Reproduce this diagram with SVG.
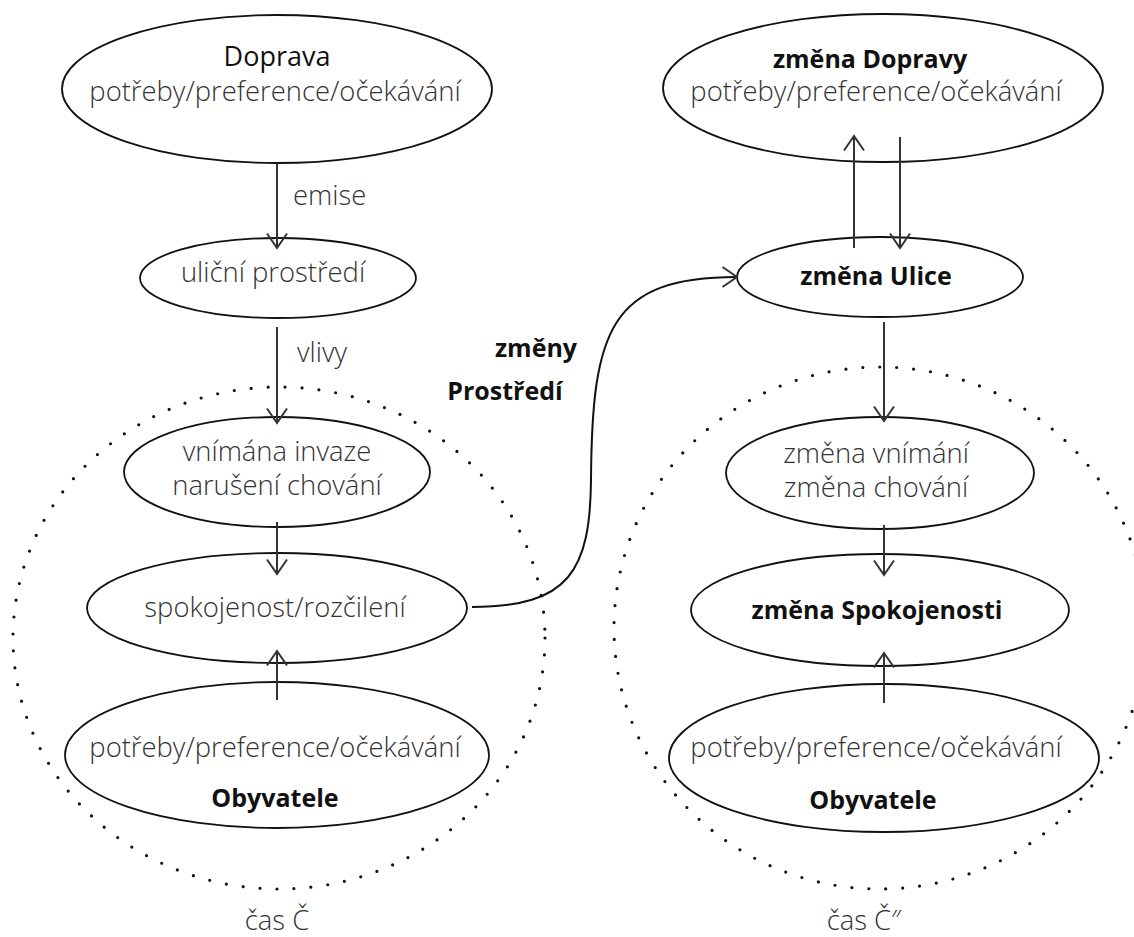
<svg xmlns="http://www.w3.org/2000/svg" width="1134" height="937" viewBox="0 0 1134 937">
  <style>
    .node { fill: #ffffff; stroke: #111111; stroke-width: 1.8; }
    .zone { fill: none; stroke: #111111; stroke-width: 3.2; stroke-linecap: round; stroke-dasharray: 0 17; }
    .link { fill: none; stroke: #333333; stroke-width: 2; }
    .curve { fill: none; stroke: #111111; stroke-width: 2; }
    .t { font-family: "Open Sans", "DejaVu Sans", sans-serif; font-weight: 300; font-size: 27.4px; fill: #333333; text-anchor: middle; }
    .h { font-family: "Open Sans", "DejaVu Sans", sans-serif; font-weight: 400; font-size: 27px; fill: #111111; text-anchor: middle; }
    .b { font-family: "Open Sans", "DejaVu Sans", sans-serif; font-weight: 700; font-size: 25px; fill: #111111; text-anchor: middle; }
    .lbl { font-family: "Open Sans", "DejaVu Sans", sans-serif; font-weight: 300; font-size: 27.4px; fill: #333333; }
  </style>
  <defs>
    <marker id="open" markerUnits="userSpaceOnUse" markerWidth="22" markerHeight="24" refX="15" refY="10" orient="auto" overflow="visible">
      <path d="M0.5,0 L15,10 L0.5,20" fill="none" stroke="#333333" stroke-width="2"/>
    </marker>
  </defs>
  <rect width="1134" height="937" fill="#ffffff"/>

  <!-- time zones (dotted) -->
  <g id="zones">
    <ellipse class="zone" cx="279" cy="638" rx="266" ry="251"/>
    <ellipse class="zone" cx="880" cy="628" rx="266" ry="261"/>
  </g>

  <!-- left column: time Č -->
  <g id="doprava">
    <ellipse class="node" cx="277" cy="89" rx="215" ry="74"/>
    <text class="h" x="277" y="66">Doprava</text>
    <text class="t" x="275" y="101">potřeby/preference/očekávání</text>
  </g>
  <g id="ulicni-prostredi">
    <ellipse class="node" cx="278" cy="278" rx="138" ry="40"/>
    <text class="t" x="273" y="282">uliční prostředí</text>
  </g>
  <g id="vnimana-invaze">
    <ellipse class="node" cx="277" cy="472" rx="153" ry="55"/>
    <text class="t" x="277" y="461">vnímána invaze</text>
    <text class="t" x="277" y="495">narušení chování</text>
  </g>
  <g id="spokojenost">
    <ellipse class="node" cx="277" cy="608" rx="190" ry="55"/>
    <text class="t" x="275" y="617">spokojenost/rozčilení</text>
  </g>
  <g id="obyvatele-1">
    <ellipse class="node" cx="277" cy="755" rx="212" ry="73"/>
    <text class="t" x="275" y="757">potřeby/preference/očekávání</text>
    <text class="b" x="275" y="807">Obyvatele</text>
  </g>

  <!-- right column: time Č″ -->
  <g id="zmena-dopravy">
    <ellipse class="node" cx="883" cy="88" rx="220" ry="74"/>
    <text class="b" x="870" y="68">změna Dopravy</text>
    <text class="t" x="876" y="101">potřeby/preference/očekávání</text>
  </g>
  <g id="zmena-ulice">
    <ellipse class="node" cx="880" cy="277" rx="143" ry="40"/>
    <text class="b" x="876" y="285">změna Ulice</text>
  </g>
  <g id="zmena-vnimani">
    <ellipse class="node" cx="880" cy="473" rx="154" ry="56"/>
    <text class="t" x="876" y="463">změna vnímání</text>
    <text class="t" x="876" y="497">změna chování</text>
  </g>
  <g id="zmena-spokojenosti">
    <ellipse class="node" cx="880" cy="610" rx="189" ry="56"/>
    <text class="b" x="877" y="619">změna Spokojenosti</text>
  </g>
  <g id="obyvatele-2">
    <ellipse class="node" cx="884" cy="758" rx="215" ry="74"/>
    <text class="t" x="876" y="757">potřeby/preference/očekávání</text>
    <text class="b" x="873" y="809">Obyvatele</text>
  </g>

  <!-- connectors -->
  <g id="connectors">
    <line class="link" x1="277" y1="163" x2="277" y2="248" marker-end="url(#open)"/>
    <line class="link" x1="277" y1="327" x2="277" y2="423" marker-end="url(#open)"/>
    <line class="link" x1="277" y1="522" x2="277" y2="574" marker-end="url(#open)"/>
    <line class="link" x1="277" y1="700" x2="277" y2="651" marker-end="url(#open)"/>

    <line class="link" x1="854" y1="248" x2="854" y2="136" marker-end="url(#open)"/>
    <line class="link" x1="900" y1="137" x2="900" y2="248" marker-end="url(#open)"/>
    <line class="link" x1="884" y1="322" x2="884" y2="421" marker-end="url(#open)"/>
    <line class="link" x1="884" y1="525" x2="884" y2="575" marker-end="url(#open)"/>
    <line class="link" x1="884" y1="703" x2="884" y2="653" marker-end="url(#open)"/>

    <path class="curve" d="M472,607 C570,607 590,570 591,480 C592,330 610,277 737,277" marker-end="url(#open)"/>
  </g>

  <!-- connector labels -->
  <g id="labels">
    <text class="lbl" x="293" y="205">emise</text>
    <text class="lbl" x="297" y="362">vlivy</text>
    <text class="b" x="536" y="357">změny</text>
    <text class="b" x="505" y="400">Prostředí</text>
    <text class="t" x="277" y="930">čas Č</text>
    <text class="t" x="864" y="930">čas Č″</text>
  </g>
</svg>
